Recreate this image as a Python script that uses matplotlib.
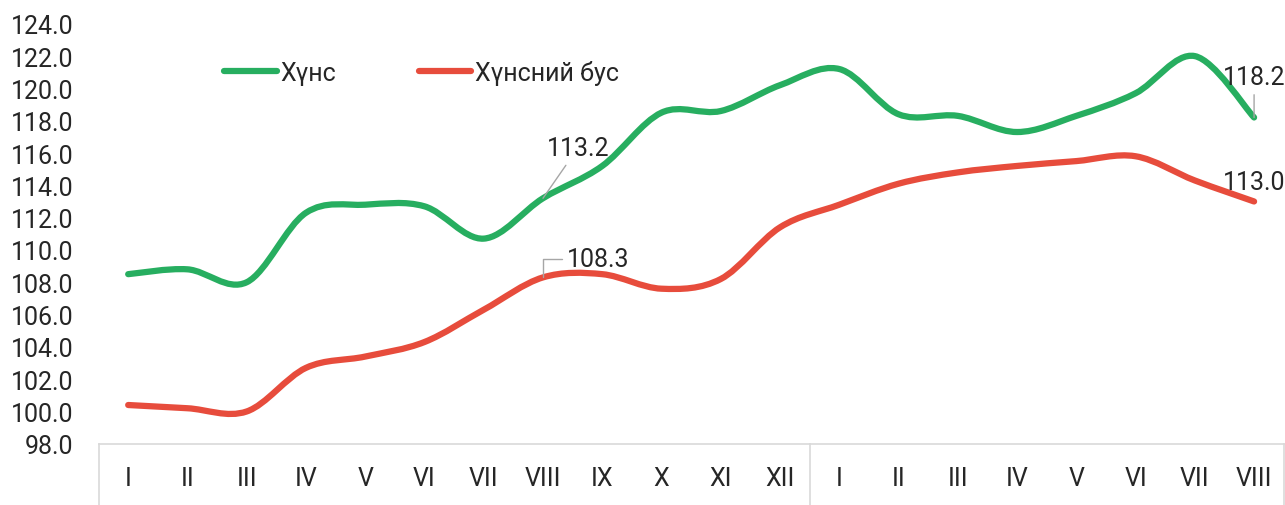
import matplotlib
matplotlib.use("Agg")
import matplotlib.pyplot as plt
import numpy as np
from matplotlib.path import Path
from matplotlib.patches import PathPatch
from matplotlib.lines import Line2D

months = ["I", "II", "III", "IV", "V", "VI", "VII", "VIII", "IX", "X", "XI", "XII",
          "I", "II", "III", "IV", "V", "VI", "VII", "VIII"]
food = [108.5, 108.8, 108.0, 112.3, 112.8, 112.7, 110.7, 113.2, 115.2, 118.5,
        118.6, 120.2, 121.2, 118.4, 118.3, 117.3, 118.3, 119.7, 122.0, 118.2]
nonfood = [100.4, 100.2, 100.0, 102.7, 103.4, 104.3, 106.3, 108.3, 108.5, 107.6,
           108.2, 111.4, 112.8, 114.1, 114.8, 115.2, 115.5, 115.8, 114.3, 113.0]

GREEN = "#27AE60"
RED = "#E74C3C"
FONT = "Roboto"

plt.rcParams["font.family"] = [FONT, "DejaVu Sans"]


def smooth_path(xs, ys):
    # bezier segments like excel's smoothed line
    pts = np.column_stack([xs, ys]).astype(float)
    n = len(pts)
    verts = [pts[0]]
    codes = [Path.MOVETO]
    for i in range(n - 1):
        p0 = pts[i - 1] if i > 0 else pts[i]
        p1 = pts[i]
        p2 = pts[i + 1]
        p3 = pts[i + 2] if i + 2 < n else pts[i + 1]
        c1 = p1 + (p2 - p0) / 6.0
        c2 = p2 - (p3 - p1) / 6.0
        verts += [c1, c2, p2]
        codes += [Path.CURVE4] * 3
    return Path(verts, codes)


fig = plt.figure(figsize=(12.85, 5.06), dpi=100)
ax = fig.add_axes([0.0767, 0.121, 0.9223, 0.830])

x = np.arange(len(months))
for ys, col in [(food, GREEN), (nonfood, RED)]:
    patch = PathPatch(smooth_path(x, ys), facecolor="none", edgecolor=col,
                      lw=4.5, capstyle="round", joinstyle="round")
    ax.add_patch(patch)

ax.set_xlim(-0.5, len(months) - 0.5)
ax.set_ylim(98, 124)
ax.set_yticks(np.arange(98, 125, 2))
ax.set_yticklabels([f"{v:.1f}" for v in np.arange(98, 125, 2)])
ax.set_xticks(x)
ax.set_xticklabels(months)
ax.tick_params(axis="both", length=0, labelsize=18, labelcolor="#262626")
ax.tick_params(axis="y", pad=18)
ax.tick_params(axis="x", pad=16)

for s in ["left", "right", "top"]:
    ax.spines[s].set_visible(False)
ax.spines["bottom"].set_color("#D9D9D9")
ax.spines["bottom"].set_linewidth(1.2)

# year separators below the axis
tr = ax.get_xaxis_transform()
for xv in [-0.5, 11.5, len(months) - 0.5]:
    ax.plot([xv, xv], [0, -0.16], transform=tr, color="#D9D9D9", lw=1.2,
            clip_on=False)

# data labels
lbl = dict(fontsize=18, color="#262626", ha="center", va="center")
gray = dict(arrowstyle="-", color="#A6A6A6", lw=1.0, shrinkA=2, shrinkB=0)
ax.annotate(f"{food[7]:.1f}", xy=(7, food[7]), xytext=(25, 36),
            textcoords="offset points", arrowprops=gray, **lbl)
ax.annotate(f"{nonfood[7]:.1f}", xy=(7, nonfood[7]), xytext=(40, 13),
            textcoords="offset points",
            arrowprops=dict(gray, connectionstyle="angle,angleA=0,angleB=90,rad=0"),
            **lbl)
ax.annotate(f"{food[-1]:.1f}", xy=(19, food[-1]), xytext=(0, 29),
            textcoords="offset points", arrowprops=gray, **lbl)
ax.annotate(f"{nonfood[-1]:.1f}", xy=(19, nonfood[-1]), xytext=(0, 14),
            textcoords="offset points", **lbl)

handles = [Line2D([], [], color=GREEN, lw=4.5, solid_capstyle="round"),
           Line2D([], [], color=RED, lw=4.5, solid_capstyle="round")]
ax.legend(handles, ["Хүнс", "Хүнсний бус"], loc="center left",
          bbox_to_anchor=(0.087, 0.885), ncol=2, frameon=False, fontsize=18,
          handlelength=2.1, handletextpad=0.15, columnspacing=3.3,
          labelcolor="#262626")

fig.savefig("out.png", dpi=100)
